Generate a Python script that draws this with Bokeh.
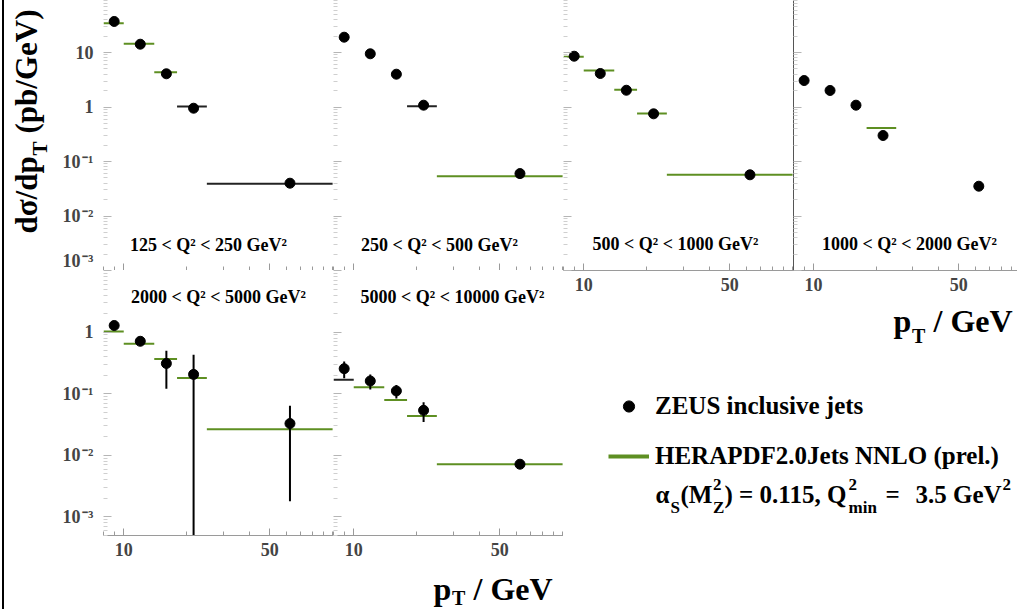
from bokeh.plotting import figure
from bokeh.models import (ColumnDataSource, Range1d, FixedTicker, CustomJSTickFormatter,
                          Label, Legend, LegendItem)
from bokeh.layouts import row, column
from bokeh.embed import file_html
from bokeh.resources import INLINE

FONT = "Liberation Serif"
GREEN = "#5e8f22"
DARK = "#222222"
NAN = float("nan")

# ---------------- data ----------------
pt_centres = [9.0, 12.0, 16.0, 21.6, 62.5]
pt_bin_low = [8, 10, 14, 18, 25]
pt_bin_high = [10, 14, 18, 25, 100]

q2_bins = ["125 < Q² < 250 GeV²", "250 < Q² < 500 GeV²", "500 < Q² < 1000 GeV²",
           "1000 < Q² < 2000 GeV²", "2000 < Q² < 5000 GeV²", "5000 < Q² < 10000 GeV²"]

zeus_xsec_125 = [37.1, 14.2, 4.07, 0.95, 0.040]
zeus_xsec_250 = [19.1, 9.47, 4.0, 1.08, 0.060]
zeus_xsec_500 = [8.55, 4.12, 2.03, 0.75, 0.057]
zeus_xsec_1000 = [3.06, 2.01, 1.08, 0.30, 0.0352]
zeus_xsec_2000 = [1.28, 0.71, 0.31, 0.206, 0.0328]
zeus_xsec_5000 = [0.255, 0.161, 0.111, 0.0538, 0.00718]

zeus_err_125 = [1.5, 0.6, 0.2, 0.05, 0.003]
zeus_err_250 = [0.8, 0.4, 0.2, 0.06, 0.005]
zeus_err_500 = [0.4, 0.2, 0.1, 0.05, 0.005]
zeus_err_1000 = [0.15, 0.1, 0.08, 0.03, 0.004]
zeus_err_2000 = [0.08, 0.06, 0.19, 0.224, 0.031]
zeus_err_5000 = [0.077, 0.044, 0.027, 0.019, 0.0008]

herapdf_125 = [34.5, 14.5, 4.35, 1.02, 0.039]
herapdf_250 = [None, None, None, 1.03, 0.0537]
herapdf_500 = [8.34, 4.68, 2.07, 0.76, 0.057]
herapdf_1000 = [None, None, None, 0.41, None]
herapdf_2000 = [1.02, 0.65, 0.365, 0.18, 0.0265]
herapdf_5000 = [0.169, 0.127, 0.079, 0.0435, 0.00718]

zeus_xsec = [zeus_xsec_125, zeus_xsec_250, zeus_xsec_500, zeus_xsec_1000, zeus_xsec_2000, zeus_xsec_5000]
zeus_err = [zeus_err_125, zeus_err_250, zeus_err_500, zeus_err_1000, zeus_err_2000, zeus_err_5000]
herapdf = [herapdf_125, herapdf_250, herapdf_500, herapdf_1000, herapdf_2000, herapdf_5000]

x_tick_values = [10, 50]
x_tick_labels = ["10", "50"]
y_tick_values_top = [1e-3, 1e-2, 1e-1, 1, 10]
y_tick_labels_top = ["10\u200a⁻³", "10\u200a⁻²", "10\u200a⁻¹", "1", "10"]
y_tick_values_bottom = [1e-3, 1e-2, 1e-1, 1]
y_tick_labels_bottom = ["10\u200a⁻³", "10\u200a⁻²", "10\u200a⁻¹", "1"]

# ---------------- styles / geometry ----------------
dark_segments = {(0, 3), (0, 4), (1, 3), (5, 0)}
x_minor = [8, 9, 20, 30, 40, 60, 70, 80, 90, 100]
y_minor = [m * 10.0 ** e for e in range(-4, 2) for m in range(2, 10)]


def tick_formatter(values, labels):
    return CustomJSTickFormatter(args=dict(vals=values, labs=labels), code="""
        for (let i = 0; i < vals.length; i++) {
            if (Math.abs(Math.log10(tick) - Math.log10(vals[i])) < 1e-6) return labs[i];
        }
        return "";
    """)


def add_text(p, text, x, y, size, angle=0, align="left"):
    # x, y give the wanted alphabetic baseline; Bokeh draws the text a bit lower,
    # so lift it by a fraction of the font size
    off = 0.36 * size
    if angle == 0:
        y = y + off
    else:
        x = x - off
    p.add_layout(Label(x=x, y=y, x_units="screen", y_units="screen", text=text,
                       text_font=FONT, text_font_style="bold", text_font_size=f"{size}px",
                       text_color="black", text_align=align, text_baseline="alphabetic",
                       angle=angle, angle_units="deg"))


def blank(w, h):
    f = figure(width=w, height=h, output_backend="svg", toolbar_location=None,
               x_range=Range1d(0, w), y_range=Range1d(0, h),
               x_axis_location=None, y_axis_location=None, min_border=0,
               frame_align=False)
    f.grid.visible = False
    f.outline_line_color = None
    f.background_fill_color = None
    f.border_fill_color = None
    return f


# (width, height, y_lo, y_hi, x_hi, border_left, border_bottom, x_labels, y_labels, label_x, label_y, dark_yaxis)
specs = [
    (277, 270, 1e-3, 90, 101, 47, 0, False, "top", 105, 19, False),
    (230, 270, 1e-3, 90, 101, 0, 0, False, None, 106, 19, False),
    (230, 300, 1e-3, 90, 101, 0, 30, True, None, 112, 20, False),
    (224, 300, 1e-3, 90, 96, 0, 30, True, None, 116, 20, True),
    (333, 295, 5e-4, 10, 101, 103, 30, True, "bottom", 115, 232, False),
    (230, 295, 5e-4, 10, 101, 0, 30, True, None, 119, 232, False),
]

panels = []
for k, (w, h, ylo, yhi, xhi, bl, bb, xlab, ylab, lx, ly, darky) in enumerate(specs):
    p = figure(width=w, height=h, x_axis_type="log", y_axis_type="log",
               x_range=Range1d(8, xhi), y_range=Range1d(ylo, yhi),
               output_backend="svg", toolbar_location=None, frame_align=False,
               min_border_left=bl, min_border_right=0, min_border_top=0, min_border_bottom=bb)
    p.xgrid.visible = False
    p.ygrid.visible = False
    p.outline_line_color = None
    p.background_fill_color = None
    p.border_fill_color = None

    xa = p.xaxis[0]
    xa.ticker = FixedTicker(ticks=x_tick_values, minor_ticks=x_minor)
    xa.major_tick_in = 7
    xa.major_tick_out = 0
    xa.minor_tick_in = 4
    xa.minor_tick_out = 0
    xa.axis_line_color = "#9a9a9a"
    xa.major_tick_line_color = "#9a9a9a"
    xa.minor_tick_line_color = "#9a9a9a"
    if xlab:
        xa.formatter = tick_formatter(x_tick_values, x_tick_labels)
        xa.major_label_text_font = FONT
        xa.major_label_text_font_style = "bold"
        xa.major_label_text_font_size = "18px"
        xa.major_label_standoff = 7
    else:
        xa.formatter = tick_formatter([], [])
        xa.major_label_text_font_size = "0px"
        xa.major_label_standoff = 0

    ya = p.yaxis[0]
    if ylab == "top":
        ya.ticker = FixedTicker(ticks=y_tick_values_top, minor_ticks=y_minor)
    else:
        ya.ticker = FixedTicker(ticks=y_tick_values_bottom + [10], minor_ticks=y_minor)
    ya.major_tick_in = 8
    ya.major_tick_out = 0
    ya.minor_tick_in = 4
    ya.minor_tick_out = 0
    ya.axis_line_color = "#555555" if darky else None
    ya.major_tick_line_color = "#b5b5b5"
    ya.minor_tick_line_color = "#cfcfcf"
    if ylab is not None:
        vals = y_tick_values_top if ylab == "top" else y_tick_values_bottom
        labs = y_tick_labels_top if ylab == "top" else y_tick_labels_bottom
        ya.formatter = tick_formatter(vals, labs)
        ya.major_label_text_font = FONT
        ya.major_label_text_font_style = "bold"
        ya.major_label_text_font_size = "18px"
        ya.major_label_standoff = 10
    else:
        ya.formatter = tick_formatter([], [])
        ya.major_label_text_font_size = "0px"
        ya.major_label_standoff = 0

    th = herapdf[k]
    keep = [j for j in range(len(th)) if th[j] is not None]
    src_th = ColumnDataSource(dict(
        x0=[pt_bin_low[j] for j in keep], x1=[pt_bin_high[j] for j in keep],
        y=[th[j] for j in keep],
        color=[DARK if (k, j) in dark_segments else GREEN for j in keep]))
    p.segment("x0", "y", "x1", "y", source=src_th, line_color="color", line_width=2)

    data = zeus_xsec[k]
    err = zeus_err[k]
    src_pts = ColumnDataSource(dict(
        x=pt_centres, y=data,
        lo=[max(v - e, 1e-7) for v, e in zip(data, err)],
        hi=[v + e for v, e in zip(data, err)]))
    p.segment("x", "lo", "x", "hi", source=src_pts, line_color="black", line_width=2)
    p.scatter("x", "y", source=src_pts, size=10, color="black")

    add_text(p, q2_bins[k], lx, ly, 18, align="center")
    panels.append(p)

p1, p2, p3, p4, p5, p6 = panels

# ---- left strip with the rotated y axis title ----
strip_top = blank(56, 270)
add_text(strip_top, "dσ/dp", 37, 37, 31, angle=90)
add_text(strip_top, "T", 47, 115, 21, angle=90)
add_text(strip_top, "(pb/GeV)", 37, 137, 31, angle=90)

# ---- bottom strip with the lower x axis title ----
strip_bottom = blank(563, 44)
add_text(strip_bottom, "p", 433, 9, 32)
add_text(strip_bottom, "T", 451.5, 4, 20)
add_text(strip_bottom, "/ GeV", 473, 9, 32)

# ---------------- legend area (also holds the upper x axis title) ----------------
pl = blank(454, 309)
add_text(pl, "p", 330, 277, 32)
add_text(pl, "T", 348.5, 266, 20)
add_text(pl, "/ GeV", 370, 277, 32)

r_pts = pl.scatter(x=[NAN], y=[NAN], size=10, color="black")
r_th = pl.line(x=[NAN, NAN], y=[NAN, NAN], line_color=GREEN, line_width=4)
legend = Legend(items=[LegendItem(label="ZEUS inclusive jets", renderers=[r_pts]),
                       LegendItem(label="HERAPDF2.0Jets NNLO (prel.)", renderers=[r_th])],
                location=(45, 139), glyph_width=41, glyph_height=28, label_height=28,
                label_standoff=6, spacing=22, padding=0, margin=0,
                border_line_color=None, background_fill_alpha=0,
                label_text_font=FONT, label_text_font_style="bold",
                label_text_font_size="25px", label_text_color="black")
pl.add_layout(legend)

base_y, sub_y, sup_y = 106, 96, 119
add_text(pl, "α", 92, base_y, 25)
add_text(pl, "S", 107, sub_y, 17)
add_text(pl, "(M", 117, base_y, 25)
add_text(pl, "2", 149.5, sup_y, 17)
add_text(pl, "Z", 149.5, sub_y, 17)
add_text(pl, ") = 0.115, Q", 161, base_y, 25)
add_text(pl, "2", 285, sup_y, 17)
add_text(pl, "min", 285, sub_y, 17)
add_text(pl, "=", 322, base_y, 25)
add_text(pl, "3.5 GeV", 352, base_y, 25)
add_text(pl, "2", 439, sup_y, 17)

left = column(row(strip_top, p1, p2), row(p5, p6), strip_bottom)
right = column(row(p3, p4), pl)
# the black left edge of the slide, drawn behind the transparent figures
layout = row(left, right, styles={
    "background": "linear-gradient(to right, #ffffff 0px, #ffffff 2px, #000000 2px, "
                  "#000000 4.5px, #ffffff 4.5px, #ffffff 100%)"})

open("out.html", "w").write(file_html(layout, INLINE))
